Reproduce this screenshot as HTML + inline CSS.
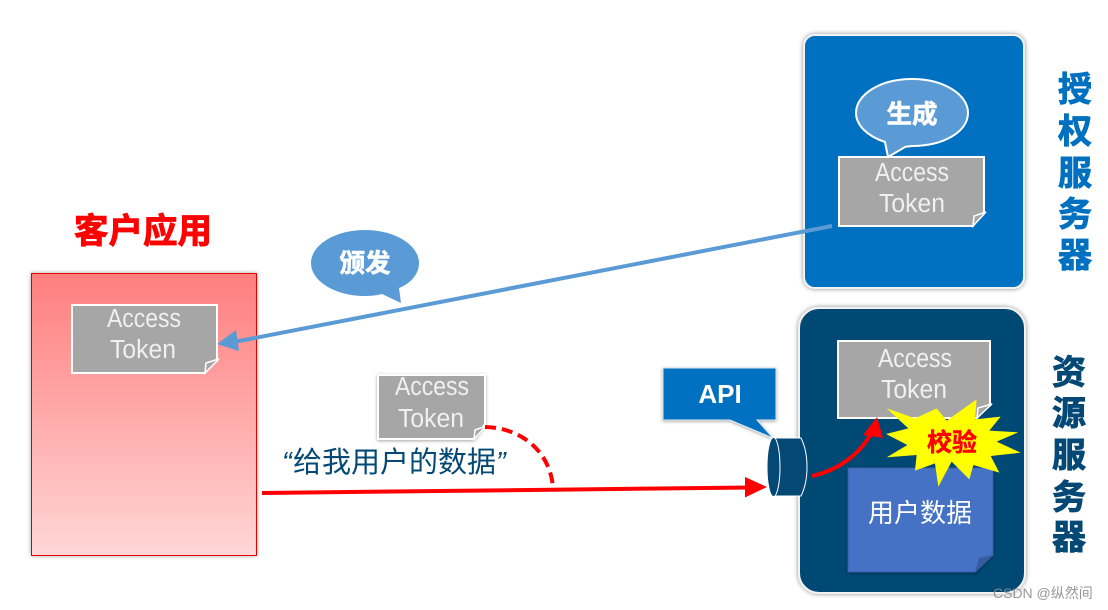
<!DOCTYPE html>
<html lang="zh">
<head>
<meta charset="utf-8">
<style>
html,body{margin:0;padding:0;background:#fff;width:1108px;height:610px;overflow:hidden}
svg{display:block}
text{font-family:"Liberation Sans","Noto Sans CJK SC",sans-serif}
.cjk{font-family:"Noto Sans CJK SC","Liberation Sans",sans-serif}
.at{fill:#f0f0f0;font-size:25.5px;text-anchor:middle}
.v{font-size:34px;font-weight:700;text-anchor:middle;stroke-width:.9px}
</style>
</head>
<body>
<svg width="1108" height="610" viewBox="0 0 1108 610" xmlns="http://www.w3.org/2000/svg">
<defs>
<linearGradient id="g" x1="0" y1="0" x2="0" y2="1">
<stop offset="0" stop-color="#ff7e7e"/><stop offset="1" stop-color="#ffd6d6"/>
</linearGradient>
<filter id="s" x="-10%" y="-10%" width="120%" height="120%">
<feDropShadow dx="0" dy="0" stdDeviation="2.500" flood-color="#000" flood-opacity=".45"/>
</filter>
<filter id="s2" x="-10%" y="-10%" width="120%" height="120%">
<feDropShadow dx="0" dy="1" stdDeviation="1.500" flood-color="#000" flood-opacity=".35"/>
</filter>
</defs>

<!-- client -->
<rect x="31.500" y="273.500" width="225" height="282" fill="url(#g)" filter="url(#s)"/>
<rect x="31.500" y="273.500" width="225" height="282" fill="none" stroke="#e00000" stroke-width="1"/>
<text class="cjk" x="143" y="243" fill="#ff0000" stroke="#ff0000" stroke-width=".9" font-size="34.500" font-weight="700" text-anchor="middle">客户应用</text>

<!-- auth server -->
<rect x="804" y="35" width="220" height="253" rx="11" fill="#0070c0" stroke="#f2f2f2" stroke-width="2" filter="url(#s)"/>
<!-- resource server -->
<rect x="799" y="308" width="226" height="285" rx="20" fill="#044875" stroke="#f2f2f2" stroke-width="2" filter="url(#s)"/>

<!-- vertical titles -->
<g fill="#0070c0" stroke="#0070c0">
<text class="v cjk" x="1075" y="101">授</text>
<text class="v cjk" x="1075" y="143">权</text>
<text class="v cjk" x="1075" y="185">服</text>
<text class="v cjk" x="1075" y="226">务</text>
<text class="v cjk" x="1075" y="267">器</text>
</g>
<g fill="#044875" stroke="#044875">
<text class="v cjk" x="1069" y="384">资</text>
<text class="v cjk" x="1069" y="425">源</text>
<text class="v cjk" x="1069" y="467">服</text>
<text class="v cjk" x="1069" y="509">务</text>
<text class="v cjk" x="1069" y="549">器</text>
</g>

<!-- 生成 bubble -->
<path d="M885 142 C867 136 856 125 856 113 C856 94 881 79 912 79 C943 79 968 94 968 113 C968 132 943 146 912 146 C909 146.500 906 146.700 905 147 L888 157 Z" fill="#5b9bd5" stroke="#fff" stroke-width="2"/>
<text class="cjk" x="912" y="123" fill="#fff" stroke="#fff" stroke-width=".6" font-size="25.500" font-weight="700" text-anchor="middle">生成</text>

<!-- auth token -->
<path d="M839 157H984V212L973 226H839Z" fill="#a6a6a6" stroke="#fff" stroke-width="2"/>
<path d="M973 226L974 216L986 212Z" fill="#a6a6a6" stroke="#fff" stroke-width="1.500"/>
<text class="at" x="912" y="181" textLength="74" lengthAdjust="spacingAndGlyphs">Access</text>
<text class="at" x="912" y="212" textLength="66" lengthAdjust="spacingAndGlyphs">Token</text>

<!-- client token -->
<path d="M72 305H217V359L205 373H72Z" fill="#a6a6a6" stroke="#fff" stroke-width="2"/>
<path d="M205 373L206 363L219 359Z" fill="#a6a6a6" stroke="#fff" stroke-width="1.500"/>
<text class="at" x="144" y="327" textLength="74" lengthAdjust="spacingAndGlyphs">Access</text>
<text class="at" x="143" y="358" textLength="66" lengthAdjust="spacingAndGlyphs">Token</text>

<!-- 颁发 bubble -->
<path d="M382 294 C376 295.500 370 296 365 296 C335 296 311 281 311 263 C311 245 335 230 365 230 C395 230 419 245 419 263 C419 273 412 283 399 288 L401 303 Z" fill="#5b9bd5"/>
<text class="cjk" x="365" y="272" fill="#fff" stroke="#fff" stroke-width=".6" font-size="25.500" font-weight="700" text-anchor="middle">颁发</text>

<!-- blue arrow -->
<line x1="832" y1="226" x2="234" y2="342" stroke="#5b9bd5" stroke-width="4"/>
<polygon points="217,344 236,330 239,351" fill="#5b9bd5"/>

<!-- middle token -->
<path d="M378 375H485V424L474 439H378Z" fill="#a6a6a6" stroke="#fff" stroke-width="2" filter="url(#s2)"/>
<path d="M474 439L475 430L486 426Z" fill="#a6a6a6" stroke="#fff" stroke-width="1.500"/>
<text class="at" x="432" y="395" textLength="74" lengthAdjust="spacingAndGlyphs">Access</text>
<text class="at" x="431" y="427" textLength="66" lengthAdjust="spacingAndGlyphs">Token</text>

<!-- dashed -->
<path d="M485 427 C525 428 551 455 553 488" fill="none" stroke="#ff0000" stroke-width="4" stroke-dasharray="11 6"/>

<!-- quote text -->
<text x="282" y="472" fill="#044875" font-size="29" font-style="italic">“</text>
<text class="cjk" x="293" y="472" fill="#044875" font-size="29" textLength="203" lengthAdjust="spacingAndGlyphs">给我用户的数据</text>
<text x="496" y="472" fill="#044875" font-size="29" font-style="italic">”</text>

<!-- red main arrow -->
<line x1="262" y1="493" x2="750" y2="487.500" stroke="#ff0000" stroke-width="4"/>
<polygon points="745,477 745,497.500 767,487" fill="#ff0000"/>

<!-- API callout -->
<path d="M663 368H776V420H757L773 438L730 420H663Z" fill="#0070c0" stroke="#dfe8f0" stroke-width="1" filter="url(#s2)"/>
<text x="720" y="403" fill="#fff" font-size="26" font-weight="700" text-anchor="middle">API</text>

<!-- cylinder -->
<path d="M773 438H801C805 446 807 456 807 467C807 478 805 488 801 496H773Z" fill="#044875" stroke="#fff" stroke-width="1"/>
<ellipse cx="773.500" cy="467" rx="6.500" ry="29.500" fill="#044875" stroke="#fff" stroke-width="1"/>

<!-- resource token -->
<path d="M838 341H990V404L977 418H838Z" fill="#a6a6a6" stroke="#fff" stroke-width="2"/>
<path d="M977 418L978 408L992 404Z" fill="#a6a6a6" stroke="#fff" stroke-width="1.500"/>
<text class="at" x="915" y="367" textLength="74" lengthAdjust="spacingAndGlyphs">Access</text>
<text class="at" x="914" y="398" textLength="66" lengthAdjust="spacingAndGlyphs">Token</text>

<!-- user data -->
<path d="M848 468H993V555L975 572H848Z" fill="#4472c4" stroke="#3a5fa8" stroke-width="1" filter="url(#s2)"/>
<path d="M975 572L979 558L993 555Z" fill="#365c9f"/>
<text class="cjk" x="920" y="522" fill="#fff" font-size="26" text-anchor="middle">用户数据</text>

<!-- curved red arrow -->
<path d="M812 476 C840 470 862 452 873 430" fill="none" stroke="#ff0000" stroke-width="4"/>
<polygon points="877,417 863,435 883,438" fill="#ff0000"/>

<!-- starburst -->
<g transform="translate(650 300) scale(.33333)">
<polygon fill="#ffff00" points="710,325 795,355 860,325 890,362 980,298 975,358 1052,350 1018,392 1105,397 1040,425 1112,458 1022,468 1048,518 970,495 958,538 905,485 865,560 855,490 795,512 800,465 710,472 772,435 708,402 775,385"/>
</g>
<text class="cjk" x="952" y="451" fill="#ff0000" stroke="#ff0000" stroke-width=".4" font-size="25" font-weight="700" text-anchor="middle">校验</text>

<!-- watermark -->
<text x="993" y="598" fill="#8c8c8c" font-size="14" fill-opacity=".9">CSDN @纵然间</text>
</svg>
</body>
</html>
